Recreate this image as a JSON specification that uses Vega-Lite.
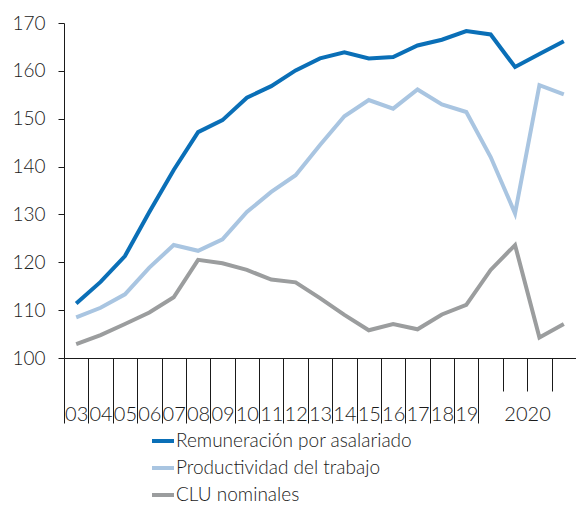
{
  "$schema": "https://vega.github.io/schema/vega-lite/v6.json",
  "width": 512,
  "height": 335,
  "autosize": {"type": "none"},
  "padding": {"left": 64, "top": 23, "right": 0, "bottom": 148},
  "config": {"view": {"stroke": null}, "font": "Lato"},
  "data": {"values": [
    {"t": "03", "s": "Remuneración por asalariado", "v": 111.4},
    {"t": "04", "s": "Remuneración por asalariado", "v": 115.9},
    {"t": "05", "s": "Remuneración por asalariado", "v": 121.3},
    {"t": "06", "s": "Remuneración por asalariado", "v": 130.5},
    {"t": "07", "s": "Remuneración por asalariado", "v": 139.3},
    {"t": "08", "s": "Remuneración por asalariado", "v": 147.2},
    {"t": "09", "s": "Remuneración por asalariado", "v": 149.7},
    {"t": "10", "s": "Remuneración por asalariado", "v": 154.4},
    {"t": "11", "s": "Remuneración por asalariado", "v": 156.8},
    {"t": "12", "s": "Remuneración por asalariado", "v": 160.1},
    {"t": "13", "s": "Remuneración por asalariado", "v": 162.6},
    {"t": "14", "s": "Remuneración por asalariado", "v": 163.9},
    {"t": "15", "s": "Remuneración por asalariado", "v": 162.6},
    {"t": "16", "s": "Remuneración por asalariado", "v": 162.9},
    {"t": "17", "s": "Remuneración por asalariado", "v": 165.3},
    {"t": "18", "s": "Remuneración por asalariado", "v": 166.5},
    {"t": "19", "s": "Remuneración por asalariado", "v": 168.3},
    {"t": "2020-1", "s": "Remuneración por asalariado", "v": 167.6},
    {"t": "2020-2", "s": "Remuneración por asalariado", "v": 160.8},
    {"t": "2020-3", "s": "Remuneración por asalariado", "v": 163.5},
    {"t": "2020-4", "s": "Remuneración por asalariado", "v": 166.2},
    {"t": "03", "s": "Productividad del trabajo", "v": 108.5},
    {"t": "04", "s": "Productividad del trabajo", "v": 110.5},
    {"t": "05", "s": "Productividad del trabajo", "v": 113.3},
    {"t": "06", "s": "Productividad del trabajo", "v": 118.9},
    {"t": "07", "s": "Productividad del trabajo", "v": 123.6},
    {"t": "08", "s": "Productividad del trabajo", "v": 122.4},
    {"t": "09", "s": "Productividad del trabajo", "v": 124.8},
    {"t": "10", "s": "Productividad del trabajo", "v": 130.5},
    {"t": "11", "s": "Productividad del trabajo", "v": 134.7},
    {"t": "12", "s": "Productividad del trabajo", "v": 138.2},
    {"t": "13", "s": "Productividad del trabajo", "v": 144.5},
    {"t": "14", "s": "Productividad del trabajo", "v": 150.5},
    {"t": "15", "s": "Productividad del trabajo", "v": 153.9},
    {"t": "16", "s": "Productividad del trabajo", "v": 152.1},
    {"t": "17", "s": "Productividad del trabajo", "v": 156.1},
    {"t": "18", "s": "Productividad del trabajo", "v": 153.0},
    {"t": "19", "s": "Productividad del trabajo", "v": 151.4},
    {"t": "2020-1", "s": "Productividad del trabajo", "v": 142.0},
    {"t": "2020-2", "s": "Productividad del trabajo", "v": 130.2},
    {"t": "2020-3", "s": "Productividad del trabajo", "v": 157.0},
    {"t": "2020-4", "s": "Productividad del trabajo", "v": 155.1},
    {"t": "03", "s": "CLU nominales", "v": 102.9},
    {"t": "04", "s": "CLU nominales", "v": 104.8},
    {"t": "05", "s": "CLU nominales", "v": 107.1},
    {"t": "06", "s": "CLU nominales", "v": 109.5},
    {"t": "07", "s": "CLU nominales", "v": 112.7},
    {"t": "08", "s": "CLU nominales", "v": 120.5},
    {"t": "09", "s": "CLU nominales", "v": 119.8},
    {"t": "10", "s": "CLU nominales", "v": 118.4},
    {"t": "11", "s": "CLU nominales", "v": 116.4},
    {"t": "12", "s": "CLU nominales", "v": 115.8},
    {"t": "13", "s": "CLU nominales", "v": 112.5},
    {"t": "14", "s": "CLU nominales", "v": 109.0},
    {"t": "15", "s": "CLU nominales", "v": 105.8},
    {"t": "16", "s": "CLU nominales", "v": 107.1},
    {"t": "17", "s": "CLU nominales", "v": 106.0},
    {"t": "18", "s": "CLU nominales", "v": 109.1},
    {"t": "19", "s": "CLU nominales", "v": 111.1},
    {"t": "2020-1", "s": "CLU nominales", "v": 118.4},
    {"t": "2020-2", "s": "CLU nominales", "v": 123.6},
    {"t": "2020-3", "s": "CLU nominales", "v": 104.3},
    {"t": "2020-4", "s": "CLU nominales", "v": 107.1}
  ]},
  "mark": {"type": "line", "strokeWidth": 4},
  "encoding": {
    "x": {
      "field": "t",
      "type": "ordinal",
      "bandPosition": 0.5,
      "scale": {"type": "band", "paddingInner": 0, "paddingOuter": 0},
      "axis": {
        "title": null,
        "labelAngle": 0,
        "tickBand": "extent",
        "domainColor": "#1a1a1a",
        "tickColor": "#1a1a1a",
        "tickWidth": 1,
        "tickSize": {"condition": {"test": "isString(datum.value) && substring(datum.value, 0, 4) == '2020'", "value": 33}, "value": 65},
        "labelPadding": {"condition": {"test": "isString(datum.value) && substring(datum.value, 0, 4) == '2020'", "value": 13}, "value": -19},
        "labelOffset": {"condition": {"test": "datum.value == '2020-2'", "value": 12}, "value": 0},
        "labelExpr": "!isString(datum.value) ? '' : (datum.value == '2020-2' ? '2020' : (substring(datum.value, 0, 4) == '2020' ? '' : datum.value))",
        "labelBaseline": "top",
        "labelFont": "Lato",
        "labelFontWeight": 300,
        "labelFontSize": 20,
        "labelColor": "#1a1a1a",
        "labelOverlap": false,
        "labelBound": false,
        "labelFlush": false
      }
    },
    "y": {
      "field": "v",
      "type": "quantitative",
      "scale": {"domain": [100, 170], "nice": false, "zero": false},
      "axis": {
        "title": null,
        "values": [100, 110, 120, 130, 140, 150, 160, 170],
        "grid": false,
        "domainColor": "#1a1a1a",
        "tickColor": "#1a1a1a",
        "tickSize": 6,
        "labelPadding": 13,
        "labelFont": "Lato",
        "labelFontWeight": 300,
        "labelFontSize": 19,
        "labelColor": "#1a1a1a"
      }
    },
    "color": {
      "field": "s",
      "type": "nominal",
      "sort": null,
      "scale": {
        "domain": ["Remuneración por asalariado", "Productividad del trabajo", "CLU nominales"],
        "range": ["#0a6fb7", "#a9c5e1", "#9b9d9e"]
      },
      "legend": {
        "title": null,
        "orient": "none",
        "legendX": 86,
        "legendY": 405,
        "symbolType": "stroke",
        "symbolSize": 484,
        "symbolStrokeWidth": 4,
        "labelFont": "Lato",
        "labelFontWeight": 300,
        "labelFontSize": 19,
        "labelColor": "#1a1a1a",
        "labelOffset": 0,
        "labelLimit": 0,
        "rowPadding": 4
      }
    }
  }
}
